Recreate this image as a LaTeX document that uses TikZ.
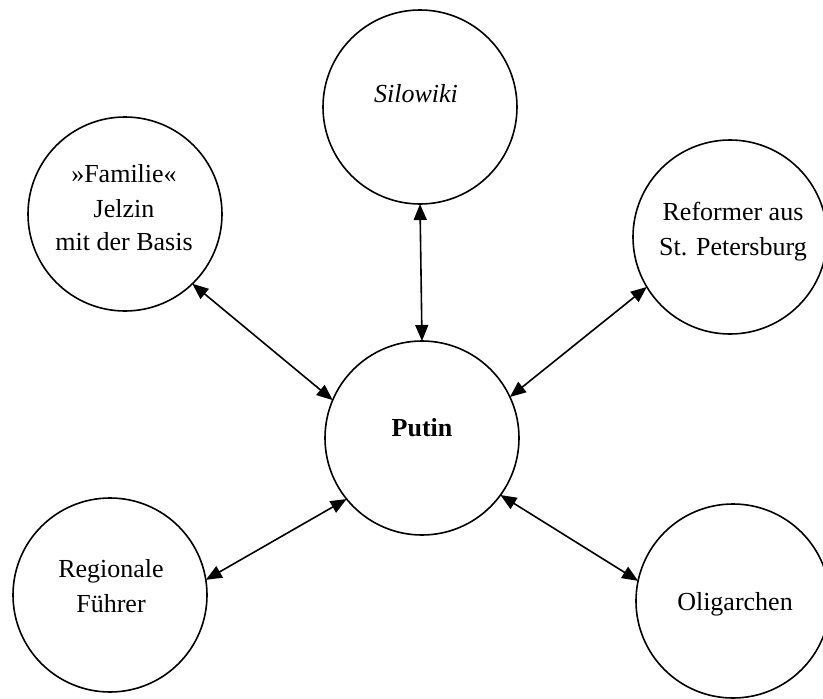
\documentclass[tikz,border=0pt]{standalone}
\usepackage{fontspec}
\setmainfont{Liberation Serif}
\usetikzlibrary{arrows.meta}
\begin{document}
\begin{tikzpicture}[x=1pt,y=-1pt,
  circ/.style={draw,circle,line width=1.6pt,minimum size=194pt,inner sep=0pt,outer sep=0pt},
  txt/.style={anchor=base,inner sep=0pt,font=\fontsize{26}{34}\selectfont},
  biarrow/.style={line width=1.6pt,{Triangle[length=16pt,width=13pt]}-{Triangle[length=16pt,width=13pt]}}]
\useasboundingbox (0,0) rectangle (823,699);
% circles
\node[circ] (sil) at (420,107) {};
\node[circ] (fam) at (125,214) {};
\node[circ] (ref) at (730,237) {};
\node[circ] (putin) at (422,438) {};
\node[circ] (reg) at (110,595) {};
\node[circ] (oli) at (733,601) {};
% texts
\node[txt] (tsil) at (416,102) {\itshape Silowiki};
\node[txt] (tfam1) at (124,182) {»Familie«};
\node[txt] (tfam2) at (124,217) {Jelzin};
\node[txt] (tfam3) at (124,250) {mit der Basis};
\node[txt] (tref1) at (733,220) {Reformer aus};
\node[txt] (tref2) at (733,255) {St. Petersburg};
\node[txt] (tput) at (422,436) {\bfseries Putin};
\node[txt] (treg1) at (111,577) {Regionale};
\node[txt] (treg2) at (111,612) {Führer};
\node[txt] (toli) at (735,610) {Oligarchen};
% connectors
\draw[biarrow] (sil.-90) -- (putin.90);
\draw[biarrow] (fam.-46.6) -- (putin.157);
\draw[biarrow] (ref.211) -- (putin.25);
\draw[biarrow] (reg.9) -- (putin.219.5);
\draw[biarrow] (putin.-36) -- (oli.168);
\end{tikzpicture}
\end{document}
